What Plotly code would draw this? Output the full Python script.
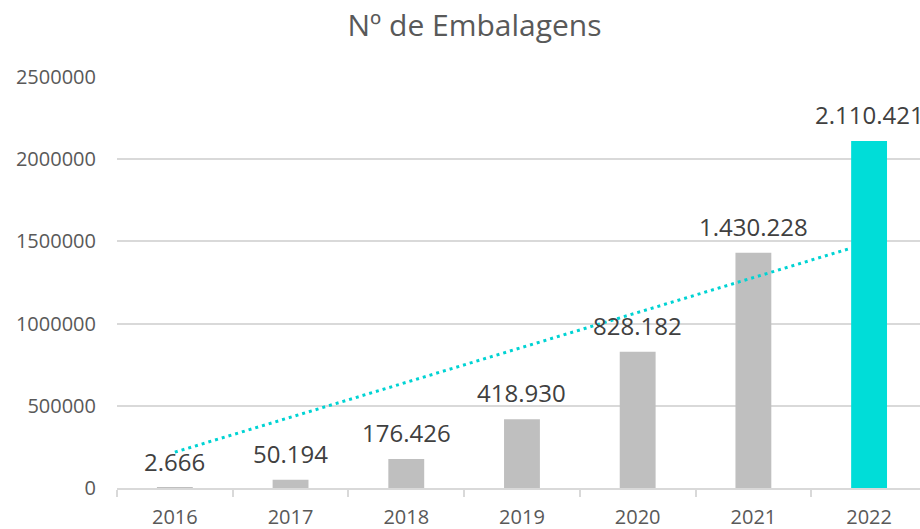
import plotly.graph_objects as go

# data
years = [2016, 2017, 2018, 2019, 2020, 2021, 2022]
embalagens = [2666, 50194, 176426, 418930, 828182, 1430228, 2110421]
labels = ["2.666", "50.194", "176.426", "418.930", "828.182", "1.430.228", "2.110.421"]
trend_x = [2016, 2021.82]
trend_y = [218000, 1454000]

GRAY = "#BFBFBF"
CYAN = "#00DDD8"
TREND = "#00D3D3"
GRID = "#D9D9D9"
TEXT = "#595959"
LABEL = "#404040"
FONT = "Open Sans"

bar_colors = [GRAY] * (len(years) - 1) + [CYAN]

fig = go.Figure()
fig.add_trace(go.Bar(
    x=years, y=embalagens,
    width=0.31,
    marker=dict(color=bar_colors, line=dict(width=0)),
    hoverinfo="skip",
))
fig.add_trace(go.Scatter(
    x=trend_x, y=trend_y, mode="lines",
    line=dict(color=TREND, width=3, dash="3px,4px"),
    hoverinfo="skip",
))

# value labels sit a little higher above the bars than plotly's outside text
for yr, val, lab in zip(years, embalagens, labels):
    fig.add_annotation(
        x=yr, y=val, text=lab, showarrow=False,
        yanchor="bottom", yshift=8,
        font=dict(family=FONT, size=24, color=LABEL),
    )

fig.update_layout(
    width=920, height=529,
    margin=dict(l=117, r=0, t=77, b=41),
    plot_bgcolor="white", paper_bgcolor="white",
    showlegend=False,
    title=dict(
        text="Nº de Embalagens",
        font=dict(family=FONT, size=30, color=TEXT),
        x=474.5 / 920, xanchor="center",
        y=1 - 36 / 529, yanchor="bottom",
    ),
)
fig.update_xaxes(
    range=[2015.5, 2022.44],
    tick0=2016, dtick=1, ticks="",
    showgrid=False, zeroline=False,
    showline=True, linecolor=GRID, linewidth=1.5,
    tickfont=dict(family=FONT, size=20, color=TEXT),
    minor=dict(tick0=2015.5, dtick=1, ticks="outside", ticklen=7,
               tickcolor=GRID, tickwidth=1.5, showgrid=False),
    ticklabelstandoff=10,
)
fig.update_yaxes(
    range=[0, 2500000],
    tick0=0, dtick=500000, tickformat="d",
    showgrid=True, gridcolor=GRID, gridwidth=1.5,
    zeroline=False, showline=False, ticks="",
    tickfont=dict(family=FONT, size=20, color=TEXT),
    ticklabelstandoff=20,
)

# drop the page's default body margin so the figure sits at the window corner
fig.write_html(
    "out.html",
    config={"displayModeBar": False},
    post_script="document.body.style.margin='0';",
)
